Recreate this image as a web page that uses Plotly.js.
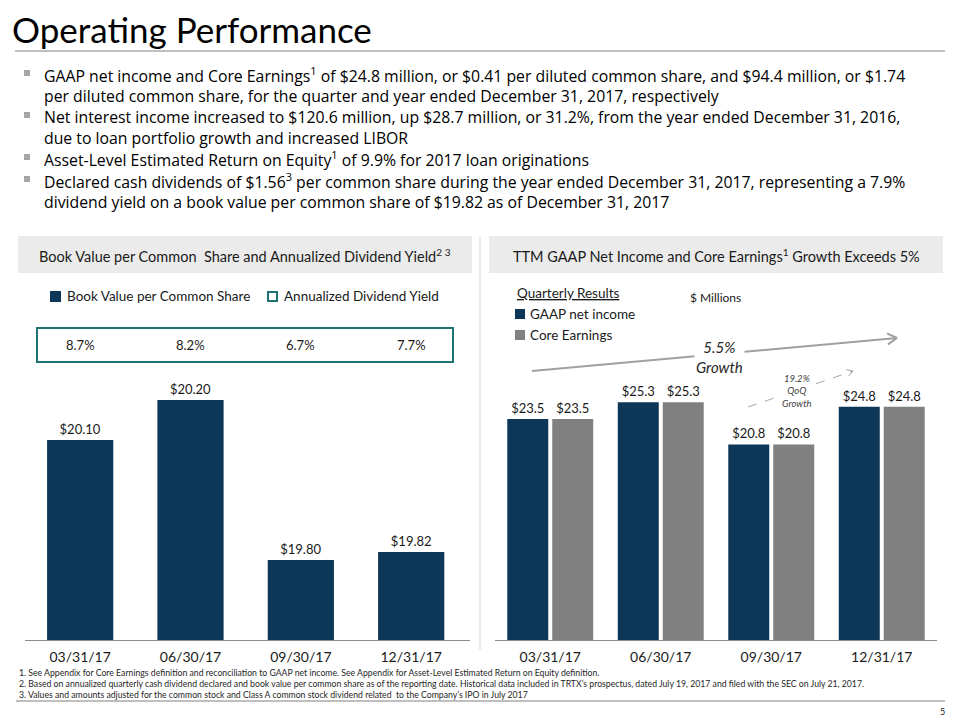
<!DOCTYPE html>
<html><head><meta charset="utf-8">
<script src="https://cdn.plot.ly/plotly-3.0.1.min.js"></script>
<style>html,body{margin:0;padding:0;background:#fff}#chart{width:960px;height:720px}</style>
</head><body><div id="chart"></div>
<script>
// ---- data ----
const quarters = ['03/31/17', '06/30/17', '09/30/17', '12/31/17'];
const bookValue = [20.10, 20.20, 19.80, 19.82];
const dividendYield = [8.7, 8.2, 6.7, 7.7];
const gaapNetIncome = [23.5, 25.3, 20.8, 24.8];
const coreEarnings = [23.5, 25.3, 20.8, 24.8];
const ttmGrowthLabel = '5.5%<br>Growth';
const qoqGrowthLabel = '19.2%<br>QoQ<br>Growth';
const bulletLines = [
  ['GAAP net income and Core Earnings<sup>1</sup> of $24.8 million, or $0.41 per diluted common share, and $94.4 million, or $1.74',
   'per diluted common share, for the quarter and year ended December 31, 2017, respectively'],
  ['Net interest income increased to $120.6 million, up $28.7 million, or 31.2%, from the year ended December 31, 2016,',
   'due to loan portfolio growth and increased LIBOR'],
  ['Asset-Level Estimated Return on Equity<sup>1</sup> of 9.9% for 2017 loan originations'],
  ['Declared cash dividends of $1.56<sup>3</sup> per common share during the year ended December 31, 2017, representing a 7.9%',
   'dividend yield on a book value per common share of $19.82 as of December 31, 2017']
];
const footnotes = [
  '1. See Appendix for Core Earnings definition and reconciliation to GAAP net income. See Appendix for Asset-Level Estimated Return on Equity definition.',
  '2. Based on annualized quarterly cash dividend declared and book value per common share as of the reporting date. Historical data included in TRTX\u2019s prospectus, dated July 19, 2017 and filed with the SEC on July 21, 2017.',
  '3. Values and amounts adjusted for the common stock and Class A common stock dividend related  to the Company\u2019s IPO in July 2017'
];

// ---- helpers ----
const W = 960, H = 720;
const px = x => x / W, py = y => 1 - y / H;
const FONT = 'Lato, "Open Sans", sans-serif';
const BFONT = '"Open Sans", Lato, sans-serif';
const NAVY = '#0c3758', GRAY = '#808080', TEAL = '#1e7272', TXT = '#1a1a1a';

const shapes = [];
const annotations = [];
function rect(x0, y0, x1, y1, fill, line) {
  shapes.push({type: 'rect', xref: 'paper', yref: 'paper', x0: px(x0), x1: px(x1), y0: py(y1), y1: py(y0),
    fillcolor: fill || 'rgba(0,0,0,0)', line: line || {width: 0}});
}
function line(x0, y0, x1, y1, color, width, dash) {
  shapes.push({type: 'line', xref: 'paper', yref: 'paper', x0: px(x0), x1: px(x1), y0: py(y0), y1: py(y1),
    line: {color: color, width: width, dash: dash || 'solid'}});
}
function arrow(x0, y0, x1, y1, color, width, dash, head) {
  line(x0, y0, x1, y1, color, width, dash);
  const dx = x1 - x0, dy = y1 - y0, L = Math.hypot(dx, dy);
  const ux = -dx / L, uy = -dy / L;
  const a = Math.PI / 6;
  [a, -a].forEach(t => {
    const rx = ux * Math.cos(t) - uy * Math.sin(t), ry = ux * Math.sin(t) + uy * Math.cos(t);
    line(x1, y1, x1 + rx * head, y1 + ry * head, color, width);
  });
}
function text(x, y, t, size, opts) {
  opts = opts || {};
  annotations.push(Object.assign({xref: 'paper', yref: 'paper', x: px(x), y: py(y), text: t, showarrow: false,
    xanchor: 'left', yanchor: 'middle', align: 'left',
    font: {family: opts.family || FONT, size: size, color: opts.color || TXT}}, opts.extra || {}));
}

// ---- page furniture ----
text(10, 29, 'Operating Performance', 35, {color: '#000'});
line(15, 51, 945, 51, '#bfbfbf', 2);

// bullets: first-line centre of each bullet; each bullet is one multi-line text
const BSIZE = 15.8;
const bulletTop = [75, 117, 159, 181];
const LH = BSIZE * 1.3;
bulletLines.forEach((ls, i) => {
  const by = bulletTop[i];
  rect(24, by - 5, 30, by + 1, '#a6a6a6');
  const centre = by + (ls.length - 1) * LH / 2;
  text(42, centre, ls.join('<br>'), BSIZE, {family: BFONT, color: '#000'});
});

// section headers
rect(18, 236, 472, 273, '#ebebeb');
rect(489, 236, 943, 273, '#ebebeb');
text(245, 255, 'Book Value per Common  Share and Annualized Dividend Yield<sup>2 3</sup>', 14.5, {extra: {xanchor: 'center'}});
text(716, 255, 'TTM GAAP Net Income and Core Earnings<sup>1</sup> Growth Exceeds 5%', 14.5, {extra: {xanchor: 'center'}});
line(480, 236, 480, 650, '#d9d9d9', 1);

// left legend
rect(50, 291, 61, 302, NAVY);
text(65, 296, 'Book Value per Common Share', 13.5);
rect(268, 292, 277, 301, '#fff', {color: TEAL, width: 2});
text(282, 296, 'Annualized Dividend Yield', 13.5);
// yield box
rect(37, 328, 453, 362, 'rgba(0,0,0,0)', {color: TEAL, width: 2});
quarters.forEach((q, i) => {
  annotations.push({xref: 'x', yref: 'paper', x: q, y: py(345), text: dividendYield[i].toFixed(1) + '%',
    showarrow: false, xanchor: 'center', yanchor: 'middle', font: {family: FONT, size: 13, color: TXT}});
});

// right legend
text(515, 293, '<u>Quarterly Results</u>', 13.5);
text(688, 297, '$ Millions', 12);
rect(515, 309, 525, 319, NAVY);
text(528, 314, 'GAAP net income', 13.5);
rect(515, 330, 525, 340, GRAY);
text(528, 335, 'Core Earnings', 13.5);

// growth arrows
arrow(532, 371, 897, 338, '#a0a0a0', 2, 'solid', 11);
text(719, 357, ttmGrowthLabel, 15, {extra: {xanchor: 'center', align: 'center', bgcolor: '#fff', font: {family: FONT, size: 15, color: '#262626', style: 'italic'}}});
arrow(748, 407, 853, 371, '#a6a6a6', 1, 'dash', 7);
text(797, 391, qoqGrowthLabel, 9.5, {extra: {xanchor: 'center', align: 'center', bgcolor: '#fff', font: {family: FONT, size: 9.5, color: '#404040', style: 'italic'}}});

// footnotes
footnotes.forEach((f, i) => text(17, 672 + i * 11, f, 8.7, {color: '#262626'}));
line(16, 701, 945, 701, '#bfbfbf', 2);
text(942, 711, '5', 9, {extra: {xanchor: 'center'}});

// ---- traces ----
const traces = [
  {type: 'bar', x: quarters, y: bookValue, xaxis: 'x', yaxis: 'y', name: 'Book Value per Common Share',
   marker: {color: NAVY}, width: 0.6, texttemplate: '$%{y:.2f}', textposition: 'outside',
   textfont: {family: FONT, size: 13, color: TXT}},
  {type: 'bar', x: quarters, y: gaapNetIncome, xaxis: 'x2', yaxis: 'y2', name: 'GAAP net income',
   marker: {color: NAVY}, offset: -0.389, width: 0.371, texttemplate: '$%{y:.1f}', textposition: 'outside',
   textfont: {family: FONT, size: 13, color: TXT}},
  {type: 'bar', x: quarters, y: coreEarnings, xaxis: 'x2', yaxis: 'y2', name: 'Core Earnings',
   marker: {color: GRAY}, offset: 0.018, width: 0.371, texttemplate: '$%{y:.1f}', textposition: 'outside',
   textfont: {family: FONT, size: 13, color: TXT}}
];

const xcommon = {type: 'category', showline: true, linecolor: '#8c8c8c', linewidth: 1, ticks: '', showgrid: false,
  zeroline: false, fixedrange: true, tickfont: {family: FONT, size: 14, color: TXT}, ticklabelstandoff: 4};
const layout = {
  width: W, height: H, margin: {l: 0, r: 0, t: 0, b: 0}, paper_bgcolor: '#fff', plot_bgcolor: 'rgba(0,0,0,0)',
  showlegend: false, barmode: 'group',
  xaxis: Object.assign({}, xcommon, {domain: [px(25), px(470)], range: [-0.5, 3.533], anchor: 'y'}),
  yaxis: {domain: [py(640), py(320)], range: [19.6, 20.4], visible: false, fixedrange: true, anchor: 'x'},
  xaxis2: Object.assign({}, xcommon, {domain: [px(495), px(937)], range: [-0.5, 3.5], anchor: 'y2'}),
  yaxis2: {domain: [py(640), py(320)], range: [0, 34.04], visible: false, fixedrange: true, anchor: 'x2'},
  shapes: shapes, annotations: annotations
};
Plotly.newPlot('chart', traces, layout, {displayModeBar: false, staticPlot: true});
</script></body></html>
